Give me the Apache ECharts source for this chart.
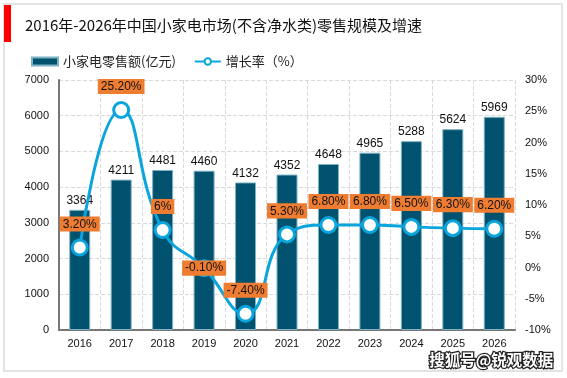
<!DOCTYPE html>
<html><head><meta charset="utf-8">
<script src="https://cdn.jsdelivr.net/npm/echarts@6/dist/echarts.min.js"></script>
<style>html,body{margin:0;padding:0;background:#fff}#c{width:567px;height:378px}</style>
</head><body><div id="c"></div>
<script>
var categories = ['2016','2017','2018','2019','2020','2021','2022','2023','2024','2025','2026'];
var salesValues = [3364,4211,4481,4460,4132,4352,4648,4965,5288,5624,5969];
var growthValues = [3.2,25.2,6,-0.1,-7.4,5.3,6.8,6.8,6.5,6.3,6.2];
var growthLabels = ['3.20%','25.20%','6%','-0.10%','-7.40%','5.30%','6.80%','6.80%','6.50%','6.30%','6.20%'];
var leftTicks = [0,1000,2000,3000,4000,5000,6000,7000];
var rightTicks = [-10,-5,0,5,10,15,20,25,30];

var chart = echarts.init(document.getElementById('c'));
var ff = '"Liberation Sans","Noto Sans CJK SC",sans-serif';
var lineData = growthValues.map(function(v,i){
  var d = {value:v};
  if (i === 3) d.label = {position:'inside'};
  return d;
});
chart.setOption({
  animation:false,
  textStyle:{fontFamily:ff},
  graphic:[
    {type:'rect',shape:{x:4,y:4,width:558,height:367},style:{fill:'none',stroke:'#e3e3e3',lineWidth:2}},
    {type:'rect',shape:{x:4,y:5,width:7,height:37},style:{fill:'#ff0000'}},
    {type:'text',left:25,top:18,style:{text:'2016年-2026年中国小家电市场(不含净水类)零售规模及增速',fontSize:15,fill:'#111',fontFamily:'"Noto Sans CJK SC",sans-serif'}},
    {type:'text',left:428,top:351,z:100,style:{text:'搜狐号@锐观数据',fontSize:15.5,fontWeight:'bold',fill:'#fff',stroke:'#222',lineWidth:2.5,fontFamily:'"Noto Sans CJK SC",sans-serif'}}
  ],
  legend:{
    left:26,top:50,itemGap:18,itemWidth:26,itemHeight:8,
    textStyle:{fontSize:13,color:'#222',fontFamily:'"Noto Sans CJK SC",sans-serif'},
    data:[{name:'小家电零售额(亿元)',icon:'rect'},{name:'增长率（%）'}]
  },
  grid:{left:59,right:52,top:80,bottom:48},
  xAxis:{
    type:'category',data:categories,
    axisLine:{lineStyle:{color:'#777',width:2}},
    axisTick:{show:false},
    axisLabel:{color:'#111',fontSize:11,margin:8},
    splitLine:{show:true,lineStyle:{type:'dashed',color:'#d9d9d9'}}
  },
  yAxis:[
    {type:'value',min:0,max:7000,interval:1000,
     axisLine:{show:true,lineStyle:{color:'#777',width:2}},
     axisTick:{show:false},
     axisLabel:{color:'#111',fontSize:11,margin:10,formatter:function(v){return String(v);}},
     splitLine:{lineStyle:{type:'dashed',color:'#d9d9d9'}}},
    {type:'value',min:-10,max:30,interval:5,
     axisLine:{show:false},axisTick:{show:false},
     axisLabel:{color:'#111',fontSize:11,margin:10,formatter:'{value}%'},
     splitLine:{show:false}}
  ],
  series:[
    {name:'小家电零售额(亿元)',type:'bar',data:salesValues,barWidth:21,
     itemStyle:{color:'#00526e',borderColor:'#7fb2c4',borderWidth:1},
     label:{show:true,position:'top',color:'#111',fontSize:12,distance:3}},
    {name:'增长率（%）',type:'line',yAxisIndex:1,data:lineData,smooth:0.5,
     symbol:'circle',symbolSize:15,
     lineStyle:{color:'#0ba5de',width:3},
     itemStyle:{color:'#fff',borderColor:'#0ba5de',borderWidth:3},
     label:{show:true,position:'top',distance:7,color:'#111',fontSize:12,
       backgroundColor:'#ee7d31',padding:[2,3,1,3],
       formatter:function(p){return growthLabels[p.dataIndex];}},
     z:5}
  ]
});
</script></body></html>
